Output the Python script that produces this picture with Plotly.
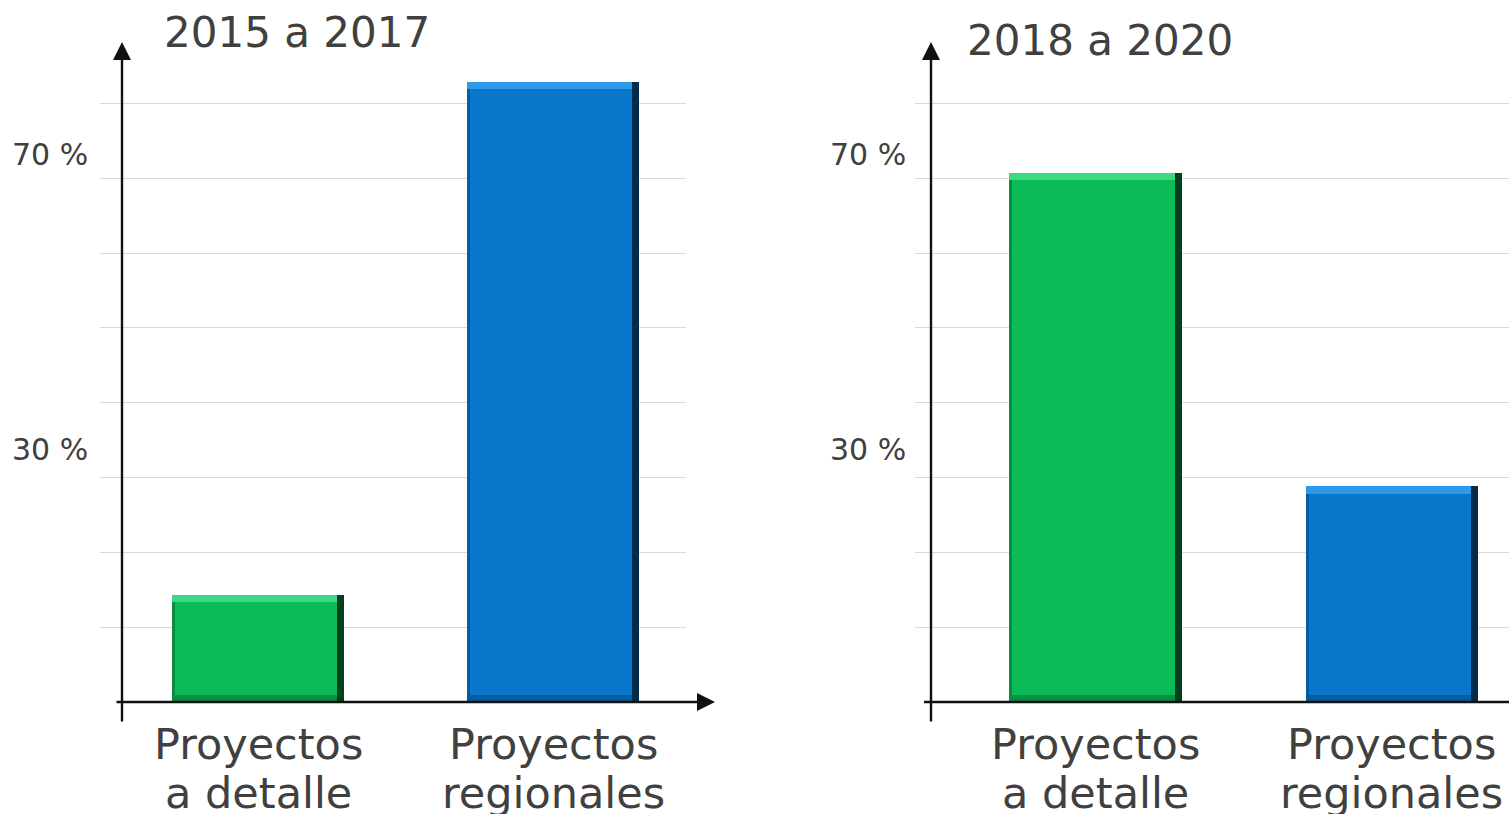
import plotly.graph_objects as go

# ---------------- data ----------------
categories = ["Proyectos<br>a detalle", "Proyectos<br>regionales"]
panel_titles = ["2015 a 2017", "2018 a 2020"]
values_2015_2017 = [14.3, 82.9]
values_2018_2020 = [70.7, 28.8]
ytick_values = [30, 70]
ytick_labels = ["30 %", "70 %"]

# ---------------- style ----------------
W, H = 1509, 814
TOP, BOTTOM = 42, 702.5          # plot area top / baseline in pixels
PLOT_H = BOTTOM - TOP
Y_MAX = 88.2
FONT = "DejaVu Sans"
TXT = "#404040"
GRID = "#d9d9d9"
AXIS_COL = "#111111"
TICK_SHIFT = [28, 24]            # label offsets above gridline (pixels)

main_col = ["#0ABB57", "#0677CB"]
mid_col = ["#078E41", "#055C9E"]
dark_col = ["#03401D", "#022B4C"]
light_col = ["#3DD884", "#2E98E9"]

BAR_W = 0.583
EDGE_L, EDGE_R = 0.010, 0.024    # bevel widths (category units)
EDGE_B, EDGE_T = 0.9, 0.95       # bevel heights (value units)


def px_x(px):
    return px / W


def px_y(py):
    return (BOTTOM - py) / PLOT_H


fig = go.Figure()

panels = [
    dict(vals=values_2015_2017, xa="x", ya="y", dom=[100 / W, 686 / W], rng=[-0.536, 1.45],
         yaxis_px=122, xarrow_tip=715, title_x=162, title_y=32, tick_x=90),
    dict(vals=values_2018_2020, xa="x2", ya="y2", dom=[915 / W, 1.0], rng=[-0.61, 1.395],
         yaxis_px=931, xarrow_tip=None, title_x=965, title_y=40, tick_x=908),
]

annotations = []
shapes = []
for i, p in enumerate(panels):
    vals = p["vals"]
    common = dict(x=categories, xaxis=p["xa"], yaxis=p["ya"], hoverinfo="skip", showlegend=False)
    # outer dark (right edge)
    fig.add_trace(go.Bar(y=vals, width=BAR_W, marker=dict(color=dark_col, line=dict(width=0)), **common))
    # mid-dark (left + bottom edges)
    fig.add_trace(go.Bar(y=vals, width=BAR_W - EDGE_R, offset=-BAR_W / 2,
                         marker=dict(color=mid_col, line=dict(width=0)), **common))
    # main face
    fig.add_trace(go.Bar(y=[v - EDGE_B - EDGE_T for v in vals], base=[EDGE_B] * len(vals),
                         width=BAR_W - EDGE_L - EDGE_R, offset=-BAR_W / 2 + EDGE_L,
                         marker=dict(color=main_col, line=dict(width=0)), **common))
    # top highlight
    fig.add_trace(go.Bar(y=[EDGE_T] * len(vals), base=[v - EDGE_T for v in vals],
                         width=BAR_W - EDGE_R, offset=-BAR_W / 2,
                         marker=dict(color=light_col, line=dict(width=0)), **common))

    # y axis arrow
    annotations.append(dict(xref="paper", yref="paper", x=px_x(p["yaxis_px"]), y=1.0,
                            ax=0, ay=681, axref="pixel", ayref="pixel", text="", showarrow=True,
                            arrowhead=2, arrowsize=1.5, arrowwidth=2.4, arrowcolor=AXIS_COL))
    # x axis arrow (right panel runs off the page edge)
    if p["xarrow_tip"] is not None:
        annotations.append(dict(xref="paper", yref="paper", x=px_x(p["xarrow_tip"]), y=0.0,
                                ax=(p["yaxis_px"] - 7) - p["xarrow_tip"], ay=0, text="", showarrow=True,
                                arrowhead=2, arrowsize=1.5, arrowwidth=2.4, arrowcolor=AXIS_COL))
    else:
        shapes.append(dict(type="line", xref="paper", yref="paper",
                           x0=px_x(p["yaxis_px"] - 7), x1=1.0, y0=0, y1=0,
                           line=dict(color=AXIS_COL, width=2.4)))
    # title
    annotations.append(dict(xref="paper", yref="paper", x=px_x(p["title_x"]), y=px_y(p["title_y"]),
                            xanchor="left", yanchor="middle", text=panel_titles[i], showarrow=False,
                            font=dict(family=FONT, size=42, color=TXT)))
    # y tick labels
    for tv, tl, sh in zip(ytick_values, ytick_labels, TICK_SHIFT):
        annotations.append(dict(xref="paper", yref=p["ya"], x=px_x(p["tick_x"]), y=tv, yshift=sh,
                                xanchor="right", yanchor="middle", text=tl, showarrow=False,
                                font=dict(family=FONT, size=30, color=TXT)))
    # x category labels (one annotation per line for tight spacing)
    for c in categories:
        for k, line in enumerate(c.split("<br>")):
            annotations.append(dict(xref=p["xa"], yref=p["ya"], x=c, y=0,
                                    yshift=-(744 - BOTTOM) - 49 * k,
                                    xanchor="center", yanchor="middle", text=line, showarrow=False,
                                    font=dict(family=FONT, size=43, color=TXT)))

axis_x = dict(showticklabels=False, showgrid=False, zeroline=False, showline=False,
              type="category", categoryorder="array", categoryarray=categories, fixedrange=True)
axis_y = dict(showticklabels=False, showgrid=True, gridcolor=GRID, gridwidth=1.3, dtick=10, tick0=0,
              zeroline=False, showline=False, range=[0, Y_MAX], domain=[0, 1], fixedrange=True)

fig.update_layout(
    width=W, height=H,
    margin=dict(l=0, r=0, t=TOP, b=H - BOTTOM, pad=0),
    paper_bgcolor="white", plot_bgcolor="white",
    barmode="overlay", bargap=0,
    xaxis=dict(axis_x, domain=panels[0]["dom"], range=panels[0]["rng"], anchor="y"),
    yaxis=dict(axis_y, anchor="x"),
    xaxis2=dict(axis_x, domain=panels[1]["dom"], range=panels[1]["rng"], anchor="y2"),
    yaxis2=dict(axis_y, anchor="x2"),
    annotations=annotations,
    shapes=shapes,
    showlegend=False,
)

fig.write_html("out.html", config={"displayModeBar": False},
               post_script="document.body.style.margin='0';document.body.style.overflow='hidden';")
